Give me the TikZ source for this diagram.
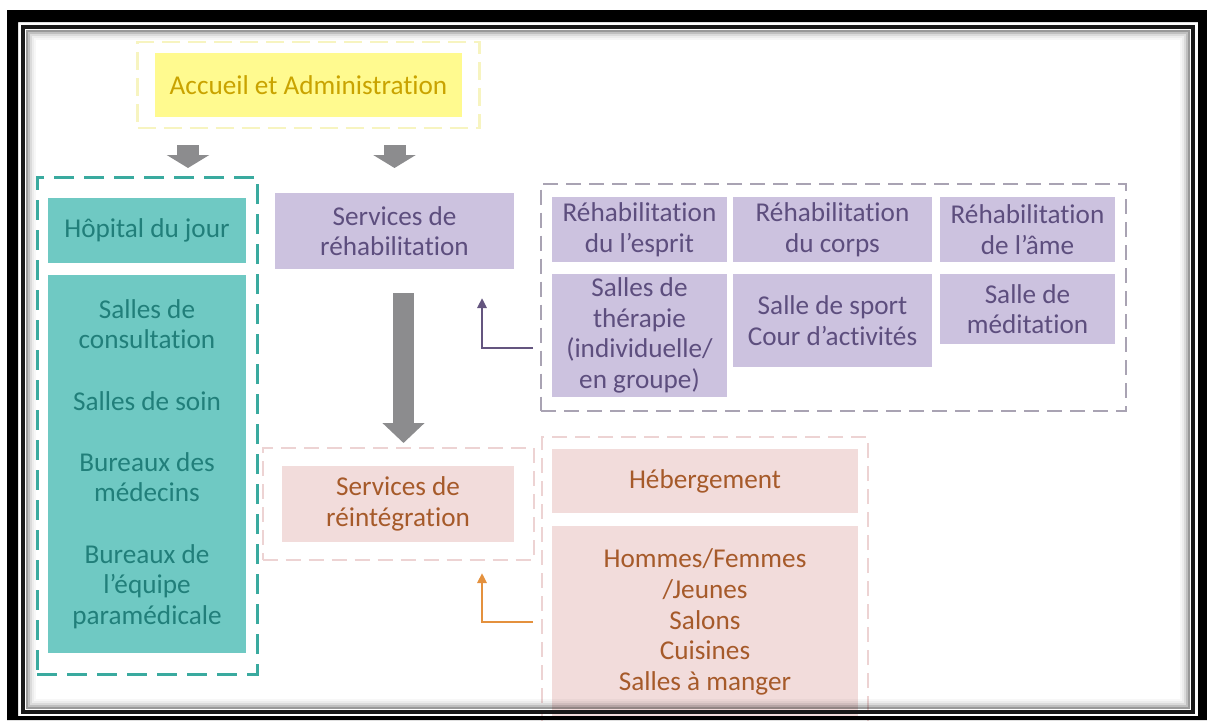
\documentclass[tikz,border=0pt]{standalone}
\usepackage{fontspec}
\setmainfont{Carlito}[Ligatures={NoCommon,NoContextual}, RawFeature={-liga;-clig}]
\usepackage{tikz}
\usetikzlibrary{positioning, arrows.meta, fit, calc}
\definecolor{accFill}{HTML}{FFFA8F}
\definecolor{accInk}{HTML}{C9A300}
\definecolor{accLine}{HTML}{F7F4C0}
\definecolor{tealFill}{HTML}{6FC9C3}
\definecolor{tealInk}{HTML}{217F7A}
\definecolor{tealLine}{HTML}{3AAA9F}
\definecolor{lavFill}{HTML}{CCC2DF}
\definecolor{lavInk}{HTML}{5D4E7E}
\definecolor{lavLine}{HTML}{A9A3B3}
\definecolor{lavArrow}{HTML}{64557F}
\definecolor{pinkFill}{HTML}{F2DCDB}
\definecolor{pinkInk}{HTML}{A65A2A}
\definecolor{pinkLine}{HTML}{EDD3D3}
\definecolor{orangeArrow}{HTML}{E4913E}
\definecolor{arrowGray}{HTML}{8C8C8E}
\tikzset{
  box/.style={rectangle, inner sep=0pt, outer sep=0pt, align=center,
    font=\fontsize{27.2}{30.6}\selectfont},
  tealbox/.style={box, fill=tealFill, text=tealInk, minimum width=198pt},
  lavbox/.style={box, fill=lavFill, text=lavInk},
  pinkbox/.style={box, fill=pinkFill, text=pinkInk},
  grp/.style={rectangle, inner sep=0pt, outer sep=0pt},
  blockarrow/.style={draw=arrowGray, line width=22pt,
    -{Triangle[width=42pt, length=13pt]}},
  bigarrow/.style={draw=arrowGray, line width=21pt,
    -{Triangle[width=41pt, length=20pt]}},
  elbow/.style={line width=2.5pt, -{Triangle[length=10pt, width=9pt]}},
}
\begin{document}
\begin{tikzpicture}[x=1pt, y=-1pt]
  \useasboundingbox (0,0) rectangle (1207,720);
  % accueil
  \node[box, fill=accFill, text=accInk, minimum width=307pt,
    minimum height=64pt] (accueil) at (308.5,85) {Accueil et Administration};
  \node[grp, draw=accLine, line width=2.5pt, dash pattern=on 18pt off 8pt,
    fit=(accueil), inner xsep=17.5pt, inner ysep=11pt] (accueilgrp) {};
  % hopital du jour
  \node[tealbox, minimum height=65pt] (hopital) at (147,230.5) {Hôpital du jour};
  \node[tealbox, minimum height=378pt, below=12pt of hopital] (salles)
    {Salles de\\consultation\\[30.6pt]Salles de soin\\[30.6pt]Bureaux des\\médecins\\[30.6pt]Bureaux de\\l’équipe\\paramédicale};
  \node[grp, draw=tealLine, line width=3pt, dash pattern=on 20pt off 10pt,
    fit=(hopital)(salles), inner xsep=11pt, inner ysep=21pt] (tealgrp) {};
  % rehabilitation
  \node[lavbox, minimum width=239pt, minimum height=76pt] (rehab) at (394.5,231)
    {Services de\\réhabilitation};
  \node[lavbox, minimum width=175pt, minimum height=65pt] (esprit) at (639.5,229.5)
    {Réhabilitation\\du l’esprit};
  \node[lavbox, minimum width=199pt, minimum height=65pt, right=6pt of esprit] (corps)
    {Réhabilitation\\du corps};
  \node[lavbox, minimum width=175pt, minimum height=65pt, right=8pt of corps] (ame)
    {Réhabilitation\\de l’âme};
  \node[lavbox, minimum width=175pt, minimum height=123pt, below=12pt of esprit] (therapie)
    {Salles de\\thérapie\\(individuelle/\\en groupe)};
  \node[lavbox, minimum width=199pt, minimum height=93pt, below=12pt of corps] (sport)
    {Salle de sport\\Cour d’activités};
  \node[lavbox, minimum width=175pt, minimum height=70pt, below=12pt of ame] (meditation)
    {Salle de\\méditation};
  \node[grp, draw=lavLine, line width=2pt, dash pattern=on 15pt off 8pt,
    fit=(esprit)(ame)(therapie), inner xsep=11pt, inner ysep=13.5pt] (lavgrp) {};
  % reintegration
  \node[pinkbox, minimum width=232pt, minimum height=76pt] (reinteg) at (398,504)
    {Services de\\réintégration};
  \node[grp, draw=pinkLine, line width=2pt, dash pattern=on 15pt off 8pt,
    fit=(reinteg), inner xsep=19.5pt, inner ysep=18pt] (reintgrp) {};
  \node[pinkbox, minimum width=306pt, minimum height=64pt] (heberg) at (705,481)
    {Hébergement};
  \node[pinkbox, minimum width=306pt, minimum height=192pt, below=13pt of heberg] (logement)
    {Hommes/Femmes\\/Jeunes\\Salons\\Cuisines\\Salles à manger};
  \node[grp, draw=pinkLine, line width=2pt, dash pattern=on 15pt off 8pt,
    fit=(heberg)(logement), inner xsep=10pt, inner ysep=12pt] (pinkgrp) {};
  % arrows
  \coordinate (tipL) at ([xshift=41pt]tealgrp.north);
  \draw[blockarrow, shorten <=17pt, shorten >=9pt] (accueilgrp.south -| tipL) -- (tipL);
  \draw[blockarrow, shorten <=17pt, shorten >=25pt] (accueilgrp.south -| rehab.north) -- (rehab.north);
  \draw[bigarrow, shorten <=24pt, shorten >=5pt] ([xshift=9pt]rehab.south)
    -- ([xshift=9pt]rehab.south |- reintgrp.north);
  \draw[elbow, lavArrow] ($(lavgrp.south west)+(-8,-62.5)$) -| ($(rehab.south east)+(-32,29)$);
  \draw[elbow, orangeArrow] ($(pinkgrp.west |- logement.west)+(-9,0)$)
    -| ($(reintgrp.south east)+(-51.5,13)$);
  % frame
  \fill[black, even odd rule] (7,10) rectangle (1207,720) (18,22) rectangle (1198,716);
  \foreach \d/\g in {4/0.40,6/0.25,8/0.14,10/0.07,12/0.03}
    \draw[black, opacity=\g, line width=2pt] (23+\d,27+\d) rectangle (1193-\d,712-\d);
  \draw[line width=4pt, black!90] (23,27) rectangle (1193,712);
\end{tikzpicture}
\end{document}
